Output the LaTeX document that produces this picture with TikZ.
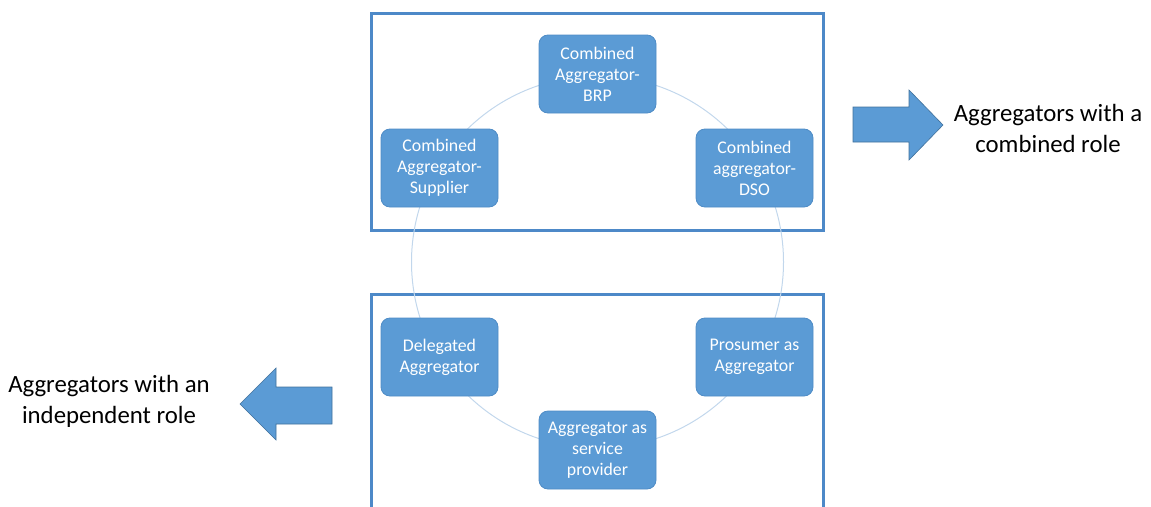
\documentclass[tikz,border=0pt]{standalone}
\usepackage{fontspec}
\setmainfont{Carlito}
\definecolor{rolefill}{HTML}{5B9BD5}
\definecolor{roleedge}{HTML}{4F8CC6}
\definecolor{frameblue}{HTML}{4D89C8}
\definecolor{ringblue}{HTML}{C2D7EC}
\definecolor{arrowedge}{HTML}{41719C}
\begin{document}
\begin{tikzpicture}[x=1pt,y=-1pt,
  role/.style={draw=roleedge, line width=0.8pt, fill=rolefill, rounded corners=9pt,
    minimum width=117pt, minimum height=78pt, inner sep=2pt, text=white,
    align=center, font=\fontsize{17.8}{21}\selectfont},
  frame/.style={draw=frameblue, line width=3pt},
  ring/.style={draw=ringblue, line width=1pt},
  bigarrow/.style={fill=rolefill, draw=arrowedge, line width=0.6pt},
  caption/.style={align=center, text=black, font=\fontsize{24.8}{31}\selectfont}]
  \useasboundingbox (0,0) rectangle (1151,506);
  \clip (0,0) rectangle (1151,506);

  % group frames
  \draw[frame] (371,13) rectangle (823,230);
  \draw[frame] (371,294) rectangle (823,530);

  % ring linking the six roles
  \draw[ring] (597.5,262) circle[radius=186];

  % roles
  \node[role] (brp) at (597.5,74) {Combined\\Aggregator-\\BRP};
  \node[role] (sup) at (439.5,168) {Combined\\Aggregator-\\Supplier};
  \node[role] (dso) at (754.5,168) {Combined\\aggregator-\\DSO};
  \node[role] (del) at (439.5,357) {Delegated\\Aggregator};
  \node[role] (pro) at (754.5,357) {Prosumer as\\Aggregator};
  \node[role] (srv) at (597.5,450) {Aggregator as\\service\\provider};

  % block arrows
  \draw[bigarrow] (853,107) -- (909,107) -- (909,90) -- (943,125) -- (909,160)
    -- (909,142) -- (853,142) -- cycle;
  \draw[bigarrow] (332,387) -- (276,387) -- (276,368) -- (240,404) -- (276,440)
    -- (276,424) -- (332,424) -- cycle;

  % captions
  \node[caption] (comb) at (1048,128) {Aggregators with a\\combined role};
  \node[caption] (indep) at (109,401) {Aggregators with an\\independent role};
\end{tikzpicture}
\end{document}
